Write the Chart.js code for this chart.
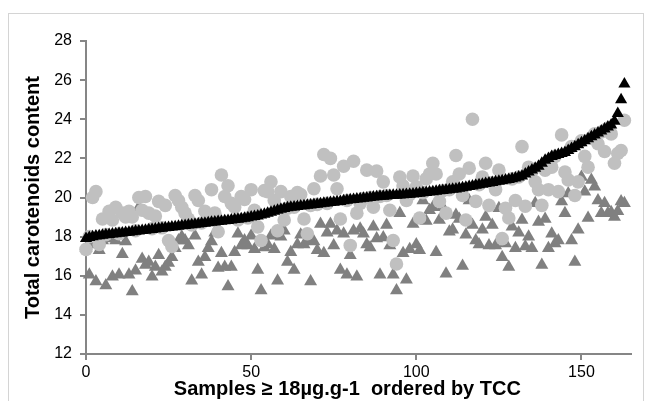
<!DOCTYPE html>
<html>
<head>
<meta charset="utf-8">
<script src="https://cdn.jsdelivr.net/npm/chart.js@4.4.1/dist/chart.umd.min.js"></script>
<style>
    html, body { margin: 0; padding: 0; background: #fff; }
    #wrap { position: relative; width: 652px; height: 401px; overflow: hidden; }
    #frame { position: absolute; left: 8px; top: 13px; width: 634px; height: 400px; border: 1px solid #d4d4d4; }
    #tccChart { position: absolute; left: 0; top: 0; }
</style>
</head>
<body>
<div id="wrap">
    <div id="frame"></div>
    <canvas id="tccChart" width="652" height="401"></canvas>
</div>
<script>
// Datos: una muestra por posición (orden por TCC)
const tccSorted = [
    17.9, 17.95, 18.0, 18.03, 18.05, 18.07, 18.09, 18.11, 18.13, 18.15,
    18.17, 18.19, 18.21, 18.23, 18.25, 18.27, 18.29, 18.31, 18.33, 18.35,
    18.37, 18.39, 18.41, 18.43, 18.45, 18.47, 18.49, 18.51, 18.53, 18.55,
    18.57, 18.59, 18.61, 18.63, 18.65, 18.67, 18.69, 18.71, 18.73, 18.75,
    18.77, 18.79, 18.81, 18.83, 18.85, 18.87, 18.89, 18.91, 18.94, 18.97,
    19.0, 19.03, 19.06, 19.1, 19.15, 19.2, 19.25, 19.3, 19.35, 19.4,
    19.44, 19.47, 19.5, 19.52, 19.54, 19.56, 19.58, 19.6, 19.62, 19.64,
    19.66, 19.68, 19.7, 19.72, 19.74, 19.76, 19.78, 19.8, 19.83, 19.86,
    19.88, 19.9, 19.92, 19.94, 19.96, 19.98, 20.0, 20.02, 20.04, 20.06,
    20.07, 20.08, 20.1, 20.11, 20.12, 20.13, 20.14, 20.15, 20.17, 20.18,
    20.2, 20.22, 20.24, 20.26, 20.28, 20.3, 20.32, 20.34, 20.36, 20.38,
    20.4, 20.42, 20.44, 20.47, 20.5, 20.53, 20.56, 20.59, 20.62, 20.65,
    20.68, 20.71, 20.74, 20.77, 20.8, 20.83, 20.86, 20.89, 20.92, 20.96,
    21.0, 21.05, 21.1, 21.2, 21.3, 21.4, 21.5, 21.6, 21.75, 21.9,
    22.0, 22.1, 22.15, 22.2, 22.25, 22.3, 22.4, 22.5, 22.6, 22.7,
    22.8, 22.9, 23.0, 23.1, 23.2, 23.3, 23.4, 23.5, 23.6, 23.7,
    23.9, 24.3, 25.0, 25.8
];

const circleValues = [
    17.35, 18.0, 20.0, 20.3, 17.6, 18.9, 18.1, 19.3, 18.85, 19.5,
    18.15, 19.2, 19.0, 19.3, 19.0, 18.3, 20.0, 19.35, 20.05, 19.2,
    18.4, 19.05, 19.8, 18.45, 19.6, 17.8, 17.5, 20.1, 19.85, 19.5,
    19.2, 18.9, 18.6, 20.1, 19.85, 18.7, 19.3, 19.0, 20.4, 19.2,
    18.25, 21.15, 20.05, 20.6, 19.7, 19.5, 18.85, 20.05, 19.9, 18.95,
    20.4, 19.35, 18.5, 17.8, 20.35, 20.3, 20.8, 19.85, 18.3, 20.3,
    18.85, 19.45, 20.05, 19.5, 20.25, 20.15, 18.9, 18.15, 19.6, 20.45,
    19.65, 21.1, 22.2, 19.7, 22.0, 21.15, 20.45, 18.9, 21.6, 19.85,
    17.55, 21.85, 19.2, 19.7, 19.95, 21.4, 20.0, 19.5, 21.35, 20.05,
    20.8, 20.1, 19.35, 17.8, 16.6, 21.05, 20.6, 19.85, 20.15, 21.1,
    20.55, 18.95, 20.25, 20.95, 21.2, 21.75, 21.2, 19.8, 20.35, 19.2,
    20.4, 20.8, 22.15, 21.2, 20.1, 18.85, 21.5, 24.0, 19.8, 20.65,
    21.05, 21.75, 19.6, 20.75, 20.4, 21.4, 17.9, 19.45, 18.95, 20.95,
    19.85, 21.05, 22.6, 19.55, 21.55, 21.35, 20.8, 20.4, 19.6, 21.4,
    20.4, 21.55, 22.1, 20.3, 23.2, 21.3, 20.9, 22.6, 20.1, 20.8,
    22.9, 22.1, 21.55, 23.05, 23.25, 22.75, 23.35, 22.35, 23.55, 23.25,
    21.75, 22.25, 22.4, 23.95
];

const triangleValues = [
    17.4, 16.05, 17.6, 15.7, 17.3, 17.8, 15.5, 17.9, 15.95, 17.8,
    16.05, 17.1, 17.75, 16.05, 15.2, 16.25, 19.5, 16.85, 16.55, 16.7,
    15.95, 16.45, 17.05, 16.2, 16.45, 16.65, 16.95, 17.4, 17.8, 18.0,
    17.8, 17.55, 15.75, 18.05, 16.7, 16.05, 16.95, 17.4, 17.75, 18.2,
    16.4, 17.15, 16.45, 15.45, 16.45, 17.2, 18.15, 17.55, 17.8, 17.55,
    18.05, 17.35, 16.3, 15.25, 17.45, 17.6, 18.05, 17.35, 15.75, 18.0,
    18.3, 16.7, 17.2, 16.3, 17.6, 18.1, 17.6, 17.8, 15.7, 17.75,
    17.3, 18.65, 17.15, 18.2, 18.65, 17.55, 18.3, 16.3, 18.15, 16.05,
    17.05, 18.3, 15.95, 18.4, 18.15, 17.6, 17.45, 18.5, 17.9, 16.05,
    17.95, 18.6, 17.55, 16.05, 15.25, 19.2, 17.15, 15.8, 17.35, 18.65,
    17.6, 17.3, 19.85, 18.8, 19.35, 19.5, 17.2, 18.85, 19.5, 16.1,
    18.25, 18.35, 19.1, 18.9, 16.5, 18.1, 19.85, 18.6, 17.8, 17.6,
    18.35, 19.0, 17.55, 18.6, 17.55, 19.45, 16.95, 17.65, 16.45, 18.5,
    17.4, 18.2, 18.85, 17.5, 18.0, 17.4, 19.7, 18.75, 16.55, 18.9,
    17.4, 18.15, 17.65, 17.8, 19.8, 19.2, 20.2, 17.8, 16.7, 18.35,
    21.05, 20.3, 18.95, 20.9, 20.55, 19.85, 19.2, 19.7, 19.2, 19.25,
    19.0, 19.3, 19.8, 19.7
];

const xTicks = [0, 50, 100, 150];
const yTicks = [12, 14, 16, 18, 20, 22, 24, 26, 28];

const AXIS_GREY = '#868686';
const FONT = "'Liberation Sans', Arial, sans-serif";

// x = posición de la muestra
function toPoints(values) {
    return values.map((v, i) => ({ x: i, y: v }));
}

function createTccChart(canvasId) {
    const ctx = document.getElementById(canvasId);
    if (!ctx) return null;

    return new Chart(ctx, {
        type: 'scatter',
        data: {
            datasets: [{
                label: 'TCC',
                data: toPoints(tccSorted),
                pointStyle: 'triangle',
                pointRadius: 7,
                backgroundColor: '#000000',
                borderColor: '#000000',
                borderWidth: 0,
                clip: false
            }, {
                label: 'circles',
                data: toPoints(circleValues),
                pointStyle: 'circle',
                pointRadius: 6.8,
                backgroundColor: '#c0c0c0',
                borderColor: '#c0c0c0',
                borderWidth: 0,
                clip: false
            }, {
                label: 'triangles',
                data: toPoints(triangleValues),
                pointStyle: 'triangle',
                pointRadius: 7.5,
                backgroundColor: '#808080',
                borderColor: '#808080',
                borderWidth: 0,
                clip: false
            }]
        },
        options: {
            responsive: false,
            animation: false,
            layout: {
                padding: { left: 0, right: 21, top: 41, bottom: 0 }
            },
            plugins: {
                legend: { display: false },
                tooltip: { enabled: false }
            },
            scales: {
                x: {
                    type: 'linear',
                    min: 0,
                    max: 165,
                    afterFit: function (scale) { scale.height = 47; },
                    afterBuildTicks: function (scale) {
                        scale.ticks = xTicks.map(v => ({ value: v }));
                    },
                    border: { display: true, color: AXIS_GREY, width: 2 },
                    grid: {
                        drawOnChartArea: false,
                        drawTicks: true,
                        tickLength: 6,
                        color: AXIS_GREY,
                        lineWidth: 2
                    },
                    ticks: {
                        color: '#000000',
                        font: { family: FONT, size: 16 },
                        padding: 3,
                        maxRotation: 0
                    },
                    title: {
                        display: true,
                        // espacios al final para correr el título un poco a la izquierda
                        text: 'Samples ≥ 18µg.g-1  ordered by TCC\u00a0\u00a0\u00a0\u00a0',
                        color: '#000000',
                        font: { family: FONT, size: 20, weight: 'bold' },
                        padding: { top: 0, bottom: 0 }
                    }
                },
                y: {
                    type: 'linear',
                    min: 12,
                    max: 28,
                    afterFit: function (scale) { scale.width = 86; },
                    afterBuildTicks: function (scale) {
                        scale.ticks = yTicks.map(v => ({ value: v }));
                    },
                    border: { display: true, color: AXIS_GREY, width: 2 },
                    grid: {
                        drawOnChartArea: false,
                        drawTicks: true,
                        tickLength: 6,
                        color: AXIS_GREY,
                        lineWidth: 2
                    },
                    ticks: {
                        color: '#000000',
                        font: { family: FONT, size: 16 },
                        padding: 8
                    },
                    title: {
                        display: true,
                        text: 'Total carotenoids content',
                        color: '#000000',
                        font: { family: FONT, size: 20, weight: 'bold' },
                        padding: { top: 21, bottom: 0 }
                    }
                }
            }
        }
    });
}

createTccChart('tccChart');
</script>
</body>
</html>
